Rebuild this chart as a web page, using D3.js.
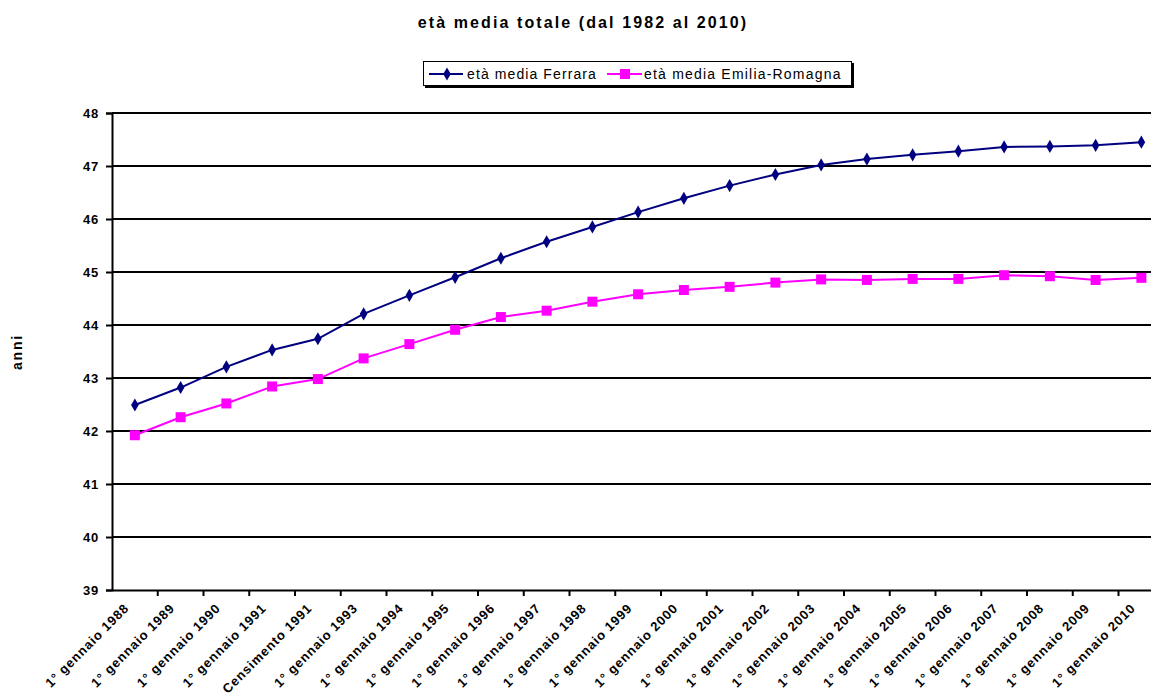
<!DOCTYPE html>
<html>
<head>
<meta charset="utf-8">
<script src="https://cdn.jsdelivr.net/npm/d3@7"></script>
<style>
  html, body { margin: 0; padding: 0; background: #fff; }
  svg { display: block; font-family: "Liberation Sans", Arial, sans-serif; }
</style>
</head>
<body>
<svg id="chart" width="1151" height="699"></svg>
<script>
// Categorie (date di rilevazione)
const categories = [
  "1° gennaio 1988", "1° gennaio 1989", "1° gennaio 1990", "1° gennaio 1991",
  "Censimento 1991", "1° gennaio 1993", "1° gennaio 1994", "1° gennaio 1995",
  "1° gennaio 1996", "1° gennaio 1997", "1° gennaio 1998", "1° gennaio 1999",
  "1° gennaio 2000", "1° gennaio 2001", "1° gennaio 2002", "1° gennaio 2003",
  "1° gennaio 2004", "1° gennaio 2005", "1° gennaio 2006", "1° gennaio 2007",
  "1° gennaio 2008", "1° gennaio 2009", "1° gennaio 2010"
];

// Età media Ferrara
const ferrara = [
  42.49, 42.82, 43.21, 43.53, 43.74, 44.21, 44.56, 44.90, 45.26, 45.57,
  45.85, 46.13, 46.39, 46.63, 46.84, 47.02, 47.13, 47.21, 47.28, 47.36,
  47.37, 47.39, 47.45
];

// Età media Emilia-Romagna
const emilia = [
  41.92, 42.26, 42.52, 42.84, 42.98, 43.37, 43.64, 43.91, 44.15, 44.27,
  44.44, 44.58, 44.66, 44.72, 44.80, 44.86, 44.85, 44.87, 44.87, 44.94,
  44.92, 44.85, 44.89
];

const yTicks = [39, 40, 41, 42, 43, 44, 45, 46, 47, 48];

const titleText = "età media totale (dal 1982 al 2010)";
const yTitle = "anni";
const seriesNames = ["età media Ferrara", "età media Emilia-Romagna"];
const NAVY = "#000080", MAGENTA = "#ff00ff";

const svg = d3.select("#chart");

const plotLeft = 112, plotTop = 113, plotBottom = 590;
const step = 45.75;
const x = d3.scaleBand().domain(categories).range([plotLeft, plotLeft + step * categories.length]);
const y = d3.scaleLinear().domain([39, 48]).range([plotBottom, plotTop]);
const cx = d => x(d) + x.bandwidth() / 2;

// Titolo
svg.append("text")
  .attr("x", 583).attr("y", 28)
  .attr("text-anchor", "middle")
  .attr("font-weight", "bold").attr("font-size", 16)
  .attr("letter-spacing", 2.1)
  .text(titleText);

// Griglia orizzontale
svg.append("g").selectAll("line").data(yTicks.filter(t => t > 39)).join("line")
  .attr("x1", plotLeft).attr("x2", 1151)
  .attr("y1", d => y(d)).attr("y2", d => y(d))
  .attr("stroke", "#000").attr("stroke-width", 2);

// Asse Y
const yAxis = svg.append("g")
  .attr("transform", `translate(${plotLeft},0)`)
  .call(d3.axisLeft(y).tickValues(yTicks).tickSize(6).tickPadding(7).tickFormat(d3.format("d")));
yAxis.select(".domain").attr("stroke", "#000").attr("stroke-width", 2);
yAxis.selectAll(".tick line").attr("stroke", "#000").attr("stroke-width", 2);
yAxis.selectAll(".tick text")
  .attr("font-size", 13).attr("font-weight", "bold")
  .attr("font-family", "Liberation Sans, Arial, sans-serif")
  .attr("letter-spacing", 0.8).attr("fill", "#000");

// Titolo asse Y
svg.append("text")
  .attr("transform", "translate(22,352) rotate(-90)")
  .attr("text-anchor", "middle")
  .attr("font-weight", "bold").attr("font-size", 14)
  .attr("letter-spacing", 1.8)
  .text(yTitle);

// Asse X
const xAxis = svg.append("g")
  .attr("transform", `translate(0,${plotBottom})`)
  .call(d3.axisBottom(x).tickSize(0).tickFormat(""));
xAxis.select(".domain").attr("stroke", "#000").attr("stroke-width", 2);

// Tacche tra le categorie
svg.append("g").selectAll("line").data(categories).join("line")
  .attr("x1", d => x(d) + x.bandwidth()).attr("x2", d => x(d) + x.bandwidth())
  .attr("y1", plotBottom).attr("y2", plotBottom + 6)
  .attr("stroke", "#000").attr("stroke-width", 2);

// Etichette ruotate
svg.append("g").selectAll("text").data(categories).join("text")
  .attr("transform", d => `translate(${cx(d) - 5},${plotBottom + 19}) rotate(-45)`)
  .attr("text-anchor", "end")
  .attr("font-size", 13).attr("font-weight", "bold")
  .attr("letter-spacing", 0.9)
  .text(d => d);

// Linee delle serie
const line = d3.line().x((d, i) => cx(categories[i])).y(d => y(d));

svg.append("path").datum(ferrara)
  .attr("d", line).attr("fill", "none")
  .attr("stroke", NAVY).attr("stroke-width", 2);
svg.append("path").datum(emilia)
  .attr("d", line).attr("fill", "none")
  .attr("stroke", MAGENTA).attr("stroke-width", 2);

// Marcatori
const diamond = d3.symbol().type(d3.symbolDiamond).size(50);
svg.append("g").selectAll("path").data(ferrara).join("path")
  .attr("transform", (d, i) => `translate(${cx(categories[i])},${y(d)})`)
  .attr("d", diamond).attr("fill", NAVY);

svg.append("g").selectAll("rect").data(emilia).join("rect")
  .attr("x", (d, i) => cx(categories[i]) - 5)
  .attr("y", d => y(d) - 5)
  .attr("width", 10).attr("height", 10)
  .attr("fill", MAGENTA);

// Legenda
const lg = svg.append("g");
lg.append("rect").attr("x", 425).attr("y", 63).attr("width", 429).attr("height", 25).attr("fill", "#000");
lg.append("rect").attr("x", 423.5).attr("y", 61.5).attr("width", 428).attr("height", 24)
  .attr("fill", "#fff").attr("stroke", "#000").attr("stroke-width", 1);

lg.append("line").attr("x1", 429).attr("x2", 463).attr("y1", 74).attr("y2", 74)
  .attr("stroke", NAVY).attr("stroke-width", 2);
lg.append("path").attr("transform", "translate(447,74)").attr("d", diamond).attr("fill", NAVY);
lg.append("text").attr("x", 467).attr("y", 79).attr("font-size", 14)
  .attr("letter-spacing", 1.1).text(seriesNames[0]);

lg.append("line").attr("x1", 607).attr("x2", 642).attr("y1", 74).attr("y2", 74)
  .attr("stroke", MAGENTA).attr("stroke-width", 2);
lg.append("rect").attr("x", 620).attr("y", 69).attr("width", 10).attr("height", 10).attr("fill", MAGENTA);
lg.append("text").attr("x", 644).attr("y", 79).attr("font-size", 14)
  .attr("letter-spacing", 1.2).text(seriesNames[1]);
</script>
</body>
</html>
